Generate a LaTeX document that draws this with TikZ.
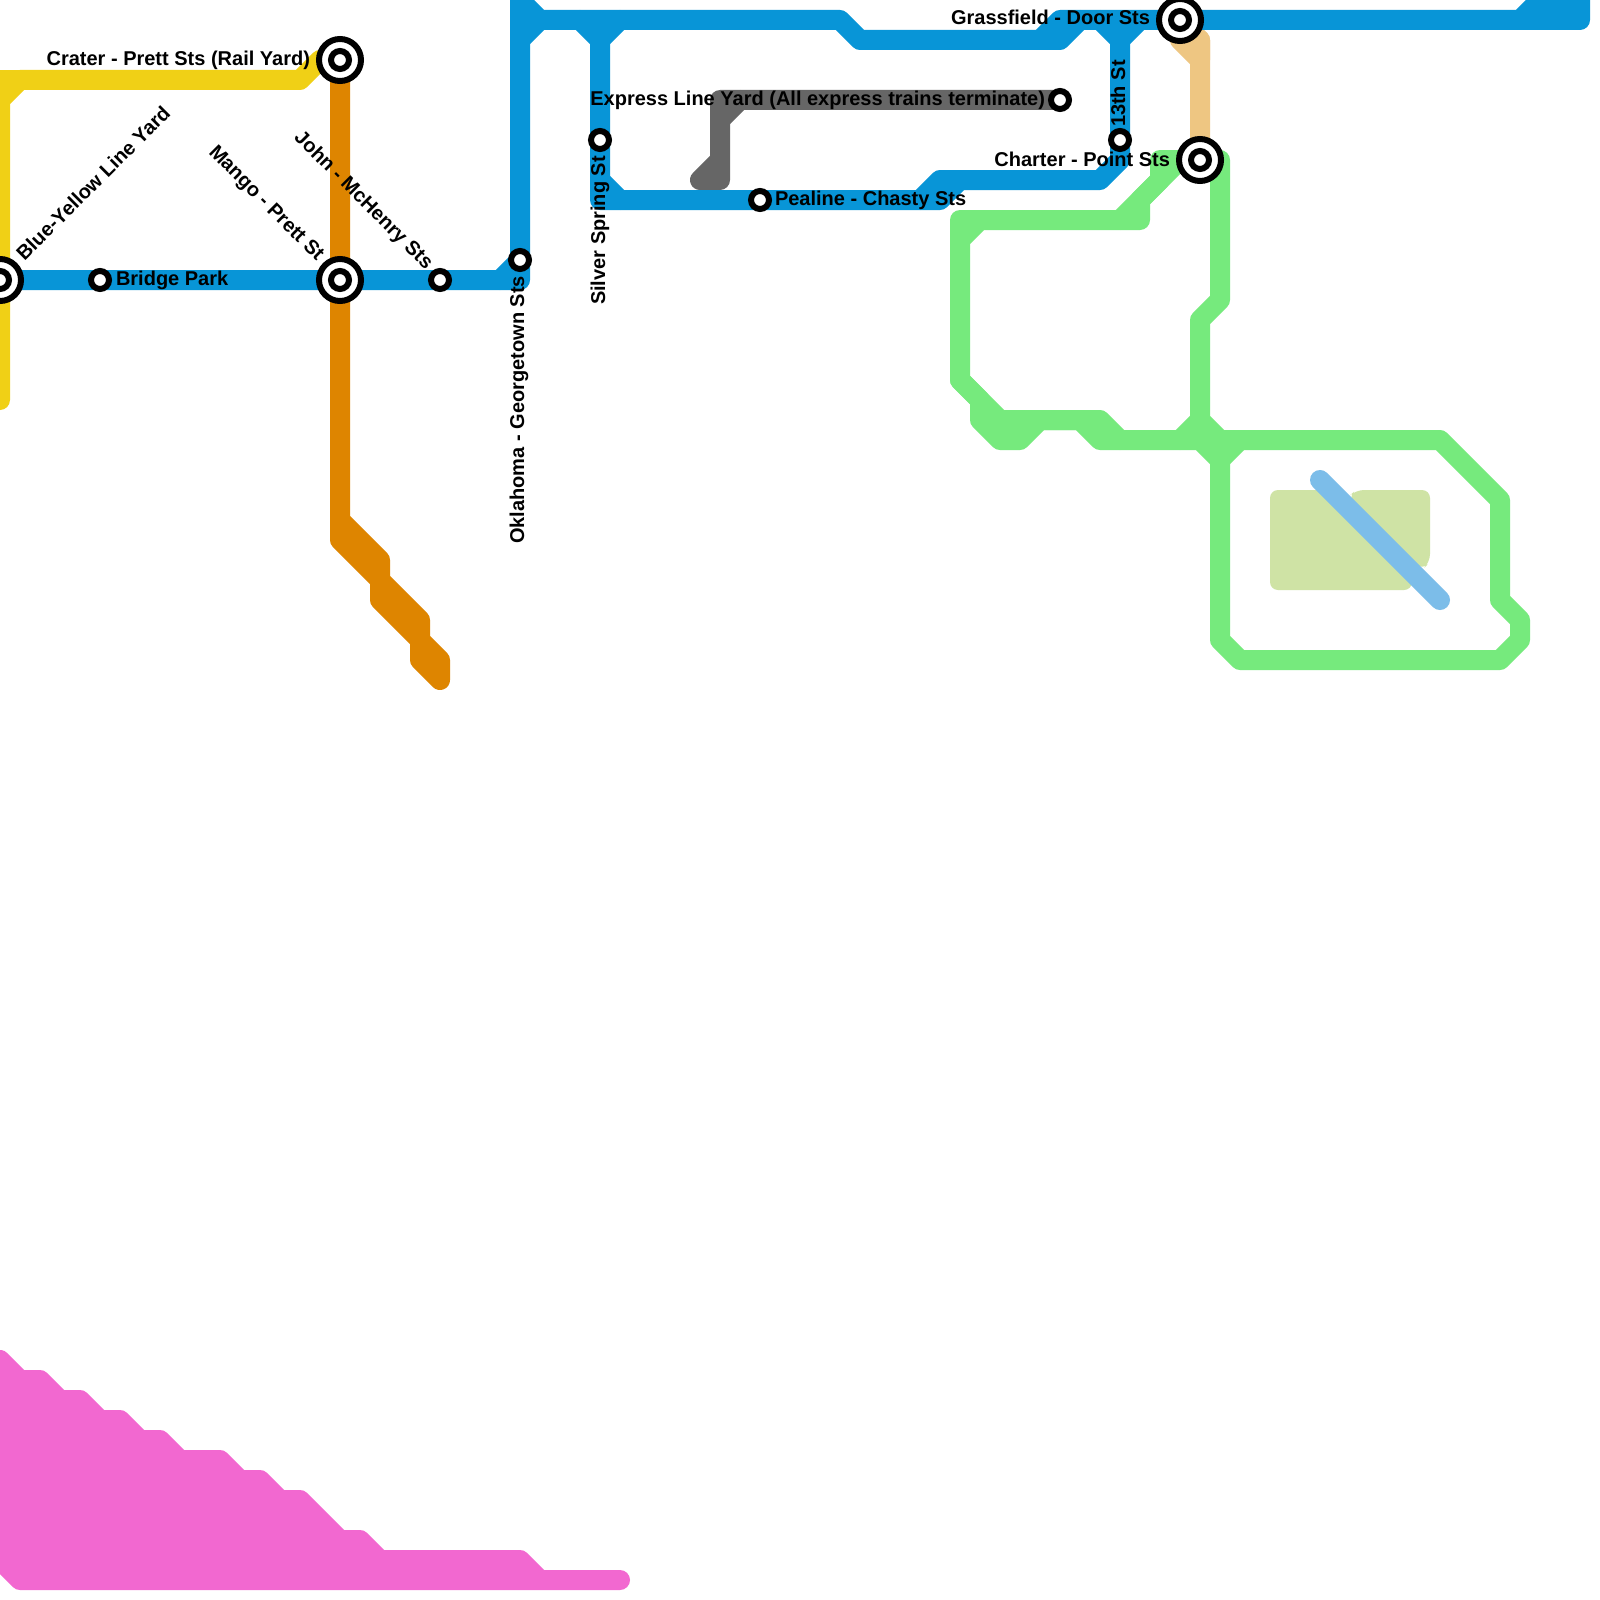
\documentclass[tikz,border=0pt]{standalone}
\usepackage{fontspec}
\setmainfont{Liberation Sans}
\definecolor{lblue}{HTML}{0895D7}
\definecolor{lyellow}{HTML}{F0D016}
\definecolor{lorange}{HTML}{DE8500}
\definecolor{lgreen}{HTML}{76EA7D}
\definecolor{lgrey}{HTML}{666666}
\definecolor{ltan}{HTML}{EEC682}
\definecolor{lpink}{HTML}{F268D0}
\definecolor{lolive}{HTML}{CFE3A5}
\definecolor{lsky}{HTML}{7CBDE9}
\tikzset{
  railline/.style={line width=20pt,line join=round,line cap=round,draw=#1},
  stop/.style={circle,draw=black,fill=white,line width=6pt,minimum size=18pt,inner sep=0pt,outer sep=0pt},
  hubouter/.style={circle,draw=black,fill=white,line width=6pt,minimum size=42pt,inner sep=0pt,outer sep=0pt},
  hubinner/.style={circle,draw=black,fill=white,line width=6pt,minimum size=18pt,inner sep=0pt,outer sep=0pt},
  lab/.style={font=\fontsize{20}{22}\selectfont\bfseries,text=black,inner sep=0pt,outer sep=0pt,text height=14pt,text depth=4pt},
  area/.style={fill=lolive,draw=none,rounded corners=8pt}
}
\begin{document}
\begin{tikzpicture}[x=1pt,y=-1pt]
\useasboundingbox (0,0) rectangle (1600,1600);
\fill[white] (0,0) rectangle (1600,1600);
% named station places
\coordinate (pBlueYellow) at (0,280);
\coordinate (pBridge) at (100,280);
\coordinate (pMango) at (340,280);
\coordinate (pCrater) at (340,60);
\coordinate (pJohn) at (440,280);
\coordinate (pOklahoma) at (520,260);
\coordinate (pSilver) at (600,140);
\coordinate (pPealine) at (760,200);
\coordinate (pExpress) at (1060,100);
\coordinate (p13th) at (1120,140);
\coordinate (pGrass) at (1180,20);
\coordinate (pCharter) at (1200,160);
% park area
\fill[area] (1270,490) -- (1330,490) -- (1412,572) -- (1412,590) -- (1270,590) -- cycle;
\fill[area] (1348,497) -- (1356,490) -- (1430,490) -- (1430,562) -- (1422,570) -- cycle;
\draw[railline=lsky] (1320,480) -- (1440,600);
% pink
\draw[railline=lpink,fill=lpink] (0,1360) -- (20,1380) -- (40,1380) -- (60,1400) -- (80,1400) -- (100,1420) -- (120,1420) -- (140,1440) -- (160,1440) -- (180,1460) -- (220,1460) -- (240,1480) -- (260,1480) -- (280,1500) -- (300,1500) -- (340,1540) -- (360,1540) -- (380,1560) -- (520,1560) -- (540,1580) -- (620,1580) -- (20,1580) -- (0,1560) -- cycle;
% yellow
\draw[railline=lyellow] (0,400) -- (0,100) -- (20,80) -- (300,80) -- (320,60) -- (pCrater);
\draw[railline=lyellow] (0,80) -- (20,80);
% orange
\draw[railline=lorange] (pCrater) -- (340,540) -- (380,580) -- (380,600) -- (420,640) -- (420,660) -- (440,680) -- (440,660) -- (420,640) -- (420,620) -- (380,580) -- (380,560) -- (340,520);
% grey
\draw[railline=lgrey] (pExpress) -- (720,100) -- (720,180) -- (700,180) -- (720,160);
\draw[railline=lgrey] (720,120) -- (740,100);
% tan
\draw[railline=ltan] (pGrass) -- (1200,40) -- (pCharter);
\draw[railline=ltan] (1180,40) -- (1200,40) -- (1200,60) -- cycle;
% blue
\draw[railline=lblue] (pBlueYellow) -- (520,280) -- (520,0) -- (540,20) -- (840,20) -- (860,40) -- (1060,40) -- (1080,20) -- (1580,20) -- (1580,0) -- (1540,0) -- (1520,20);
\draw[railline=lblue] (500,280) -- (pOklahoma);
\draw[railline=lblue] (520,40) -- (540,20);
\draw[railline=lblue] (1040,40) -- (1060,20) -- (1080,20);
\draw[railline=lblue] (580,20) -- (600,40) -- (620,20);
\draw[railline=lblue] (600,40) -- (600,200) -- (940,200) -- (960,180) -- (1100,180) -- (1120,160) -- (1120,40) -- (1100,20);
\draw[railline=lblue] (1120,40) -- (1140,20);
\draw[railline=lblue] (600,180) -- (620,200);
\draw[railline=lblue] (920,200) -- (940,180) -- (960,180);
% green
\draw[railline=lgreen] (960,240) -- (960,380) -- (980,400) -- (980,420) -- (1000,440) -- (1020,440) -- (1040,420) -- (1080,420) -- (1100,440) -- (1200,440) -- (1220,460) -- (1220,640) -- (1240,660) -- (1500,660) -- (1520,640) -- (1520,620) -- (1500,600) -- (1500,500) -- (1440,440) -- (1220,440) -- (1200,420) -- (1200,320) -- (1220,300) -- (1220,160) -- (1160,160) -- (1160,180) -- (1120,220) -- (960,220) -- (960,240) -- (980,220);
\draw[railline=lgreen] (1120,220) -- (1140,220) -- (1140,200) -- (1180,160);
\draw[railline=lgreen] (960,380) -- (1000,420) -- (1100,420) -- (1120,440);
\draw[railline=lgreen] (1200,420) -- (1180,440);
\draw[railline=lgreen] (1220,460) -- (1240,440);
% stations
\node[hubouter] (BlueYellow) at (pBlueYellow) {};
\node[hubinner] (BlueYellowIn) at (pBlueYellow) {};
\node[stop] (Bridge) at (pBridge) {};
\node[hubouter] (Mango) at (pMango) {};
\node[hubinner] (MangoIn) at (pMango) {};
\node[hubouter] (Crater) at (pCrater) {};
\node[hubinner] (CraterIn) at (pCrater) {};
\node[stop] (John) at (pJohn) {};
\node[stop] (Oklahoma) at (pOklahoma) {};
\node[stop] (Silver) at (pSilver) {};
\node[stop] (Pealine) at (pPealine) {};
\node[stop] (Express) at (pExpress) {};
\node[stop] (Th13) at (p13th) {};
\node[hubouter] (Grass) at (pGrass) {};
\node[hubinner] (GrassIn) at (pGrass) {};
\node[hubouter] (Charter) at (pCharter) {};
\node[hubinner] (CharterIn) at (pCharter) {};
% labels
\node[lab,anchor=east] (tCrater) at (310,61) {Crater - Prett Sts (Rail Yard)};
\node[lab,anchor=west] (tBridge) at (116,280) {Bridge Park};
\node[lab,anchor=west,rotate=45] (tBY) at (21,258) {Blue-Yellow Line Yard};
\node[lab,anchor=east,rotate=-45] (tMango) at (320,258) {Mango - Prett St};
\node[lab,anchor=east,rotate=-45] (tJohn) at (429,267) {John - McHenry Sts};
\node[lab,anchor=east,rotate=90] (tOk) at (519,276) {Oklahoma - Georgetown Sts};
\node[lab,anchor=east,rotate=90] (tSilver) at (600,156) {Silver Spring St};
\node[lab,anchor=west,rotate=90] (t13) at (1120,127) {13th St};
\node[lab,anchor=east] (tExpress) at (1045,101) {Express Line Yard (All express trains terminate)};
\node[lab,anchor=west] (tPealine) at (775,200) {Pealine - Chasty Sts};
\node[lab,anchor=east] (tGrass) at (1150,20) {Grassfield - Door Sts};
\node[lab,anchor=east] (tCharter) at (1170,161) {Charter - Point Sts};
\end{tikzpicture}
\end{document}
